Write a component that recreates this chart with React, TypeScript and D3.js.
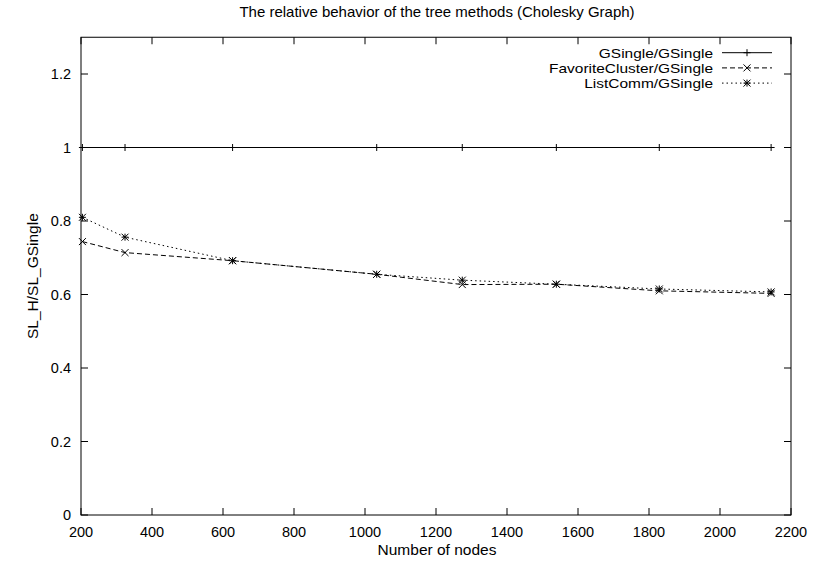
import React from "react";
import * as d3 from "d3";

const nodes = [204, 324, 627, 1033, 1274, 1539, 1829, 2144];
const gsingle = [1, 1, 1, 1, 1, 1, 1, 1];
const favoriteCluster = [0.744, 0.714, 0.692, 0.655, 0.627, 0.628, 0.610, 0.603];
const listComm = [0.810, 0.756, 0.692, 0.655, 0.639, 0.628, 0.615, 0.607];
const seriesNames = ["GSingle/GSingle", "FavoriteCluster/GSingle", "ListComm/GSingle"];
const xTicks = [200, 400, 600, 800, 1000, 1200, 1400, 1600, 1800, 2000, 2200];
const yTicks = [0, 0.2, 0.4, 0.6, 0.8, 1, 1.2];

const W = 814, H = 562;
const left = 81, right = 791, top = 37.25, bottom = 515;
const font = "'Liberation Sans', Arial, Helvetica, sans-serif";

function Marker({ kind, x, y }: { kind: string; x: number; y: number }) {
  const s = 3.5;
  const plus = <path d={`M${x - s},${y}H${x + s}M${x},${y - s}V${y + s}`} />;
  const cross = <path d={`M${x - s},${y - s}L${x + s},${y + s}M${x - s},${y + s}L${x + s},${y - s}`} />;
  if (kind === "plus") return <g stroke="#000" strokeWidth={1}>{plus}</g>;
  if (kind === "cross") return <g stroke="#000" strokeWidth={1}>{cross}</g>;
  return <g stroke="#000" strokeWidth={1}>{plus}{cross}</g>;
}

export default function App() {
  const x = d3.scaleLinear().domain([200, 2200]).range([left, right]);
  const y = d3.scaleLinear().domain([0, 1.3]).range([bottom, top]);
  const series = [
    { name: seriesNames[0], values: gsingle, dash: undefined as string | undefined, kind: "plus" },
    { name: seriesNames[1], values: favoriteCluster, dash: "5,3", kind: "cross" },
    { name: seriesNames[2], values: listComm, dash: "1.5,3", kind: "star" },
  ];
  const line = d3.line<[number, number]>().x(d => x(d[0])).y(d => y(d[1]));
  const tl = 7;
  return (
    <svg width={W} height={H} style={{ position: "absolute", left: 0, top: 0, background: "#fff" }} fontFamily={font} fontSize={14.5}>
      <rect x={0} y={0} width={W} height={H} fill="#fff" />
      <text x={437} y={17} textAnchor="middle" fontSize={15}>The relative behavior of the tree methods (Cholesky Graph)</text>
      <g stroke="#000" strokeWidth={1}>
        {xTicks.map(t => (
          <g key={"xt" + t}>
            <line x1={x(t)} x2={x(t)} y1={bottom} y2={bottom - tl} />
            <line x1={x(t)} x2={x(t)} y1={top} y2={top + tl} />
          </g>
        ))}
        {yTicks.map(t => (
          <g key={"yt" + t}>
            <line x1={left} x2={left + tl} y1={y(t)} y2={y(t)} />
            <line x1={right} x2={right - tl} y1={y(t)} y2={y(t)} />
          </g>
        ))}
      </g>
      {xTicks.map(t => (
        <text key={"xl" + t} x={x(t)} y={bottom + 22} textAnchor="middle">{t}</text>
      ))}
      {yTicks.map(t => (
        <text key={"yl" + t} x={left - 10} y={y(t) + 5.2} textAnchor="end">{t === 0 || t === 1 ? String(t) : t.toFixed(1)}</text>
      ))}
      <text x={437} y={555} textAnchor="middle" fontSize={15.5}>Number of nodes</text>
      <text transform={`translate(38,${(top + bottom) / 2}) rotate(-90)`} textAnchor="middle" fontSize={15.5}>SL_H/SL_GSingle</text>
      {series.map(s => {
        const pts = nodes.map((n, i) => [n, s.values[i]] as [number, number]);
        return (
          <g key={s.name}>
            <path d={line(pts) || ""} fill="none" stroke="#000" strokeWidth={1} strokeDasharray={s.dash} />
            {pts.map((p, i) => <Marker key={i} kind={s.kind} x={x(p[0])} y={y(p[1])} />)}
          </g>
        );
      })}
      {series.map((s, i) => {
        const ly = 52.7 + i * 15.2;
        return (
          <g key={"lg" + i}>
            <text transform={`translate(713,${ly + 4.8}) scale(1.19,1)`} textAnchor="end" fontSize={13}>{s.name}</text>
            <line x1={722} x2={772} y1={ly} y2={ly} stroke="#000" strokeWidth={1} strokeDasharray={s.dash} />
            <Marker kind={s.kind} x={747} y={ly} />
          </g>
        );
      })}
      <rect x={left} y={top} width={right - left} height={bottom - top} fill="none" stroke="#000" strokeWidth={1} />
    </svg>
  );
}
